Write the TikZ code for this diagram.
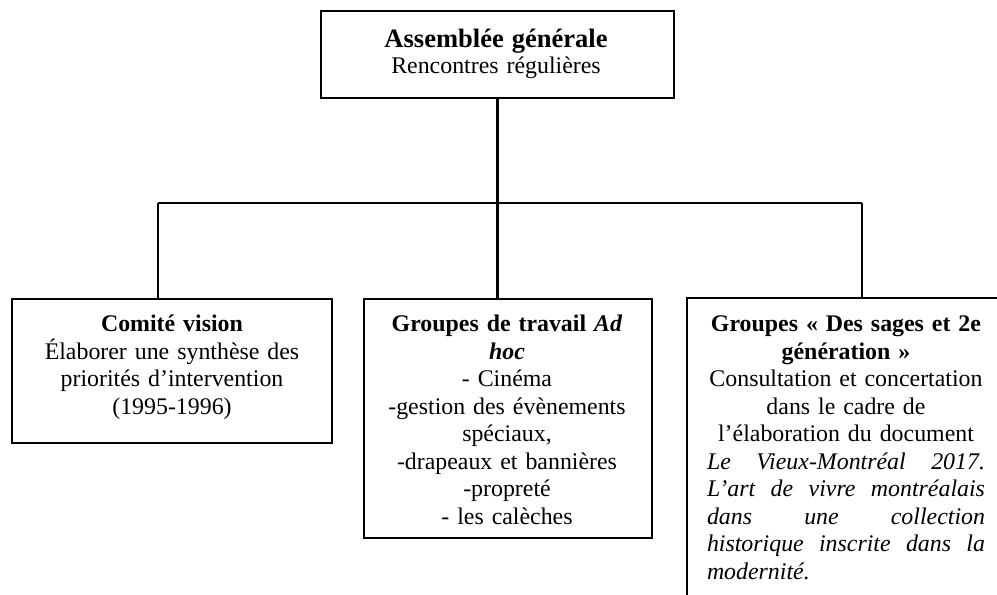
\documentclass[tikz,border=0pt]{standalone}
\usepackage{fontspec}
\setmainfont{Liberation Serif}
\tikzset{
  orgbox/.style={draw=black, line width=2pt, fill=none, inner sep=0pt, outer sep=0pt, rectangle},
  conn/.style={draw=black, line width=1.75pt},
  boxtext/.style={inner sep=0pt, outer sep=0pt, anchor=base, align=center,
    font=\fontsize{17.9pt}{20.6pt}\selectfont},
}
\newcommand{\jline}[1]{\makebox[208.5pt][l]{\itshape #1}}
\begin{document}
\begin{tikzpicture}[x=0.75pt, y=-0.75pt]
\clip (0,0) rectangle (997,595);
\fill[white] (0,0) rectangle (997,595);
% boxes
\node[orgbox, minimum width=264.75pt, minimum height=65.25pt] (top) at (497.5,54.5) {};
\node[orgbox, minimum width=240pt, minimum height=108pt] (left) at (172,371) {};
\node[orgbox, minimum width=216pt, minimum height=179.25pt] (mid) at (508,418.5) {};
\node[orgbox, minimum width=242.25pt, minimum height=234pt] (right) at (848.5,454) {};
% junctions
\coordinate (jL) at (158,203);
\coordinate (jR) at (862,203);
\draw[conn] (top.south) -- (top.south |- mid.north);
\draw[conn] (jL) -- (jR);
\draw[conn] (jL) -- (jL |- left.north);
\draw[conn] (jR) -- (jR |- right.north);
% texts
\node[boxtext, text width=264pt, font=\fontsize{17.9pt}{19.5pt}\selectfont] (toptext) at (496,47.5)
  {{\fontsize{19.9pt}{19.5pt}\selectfont\textbf{Assemblée générale}}\\Rencontres régulières};
\node[boxtext, text width=240pt] (lefttext) at (172,332)
  {\textbf{Comité vision}\\Élaborer une synthèse des\\priorités d’intervention\\(1995-1996)};
\node[boxtext, text width=216pt] (midtext) at (507,332)
  {\textbf{Groupes de travail \textit{Ad}}\\\textbf{\textit{hoc}}\\- Cinéma\\-gestion des évènements\\spéciaux,\\-drapeaux et bannières\\-propreté\\- les calèches};
\node[boxtext, text width=208.5pt] (righttext) at (846,332)
  {\textbf{Groupes « Des sages et 2e}\\\textbf{génération »}\\Consultation et concertation\\dans le cadre de\\l’élaboration du document\\
  \jline{Le\hfill Vieux-Montréal\hfill 2017.}\\
  \jline{L’art\hfill de\hfill vivre\hfill montréalais}\\
  \jline{dans\hfill une\hfill collection}\\
  \jline{historique\hfill inscrite\hfill dans\hfill la}\\
  \jline{modernité.\hfill}};
\end{tikzpicture}
\end{document}
